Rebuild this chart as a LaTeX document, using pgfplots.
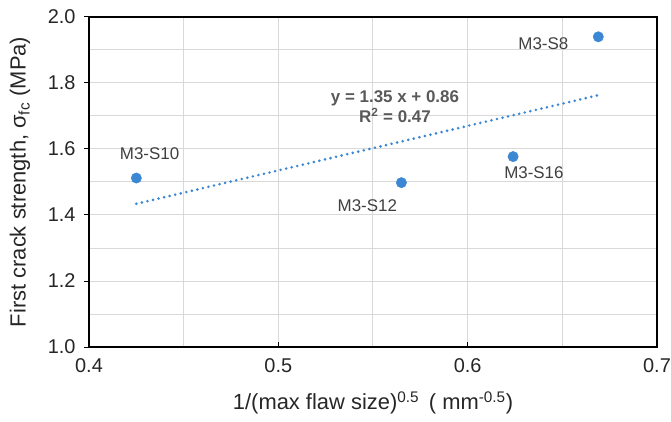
\documentclass[border=0pt]{standalone}
\usepackage{pgfplots}
\pgfplotsset{compat=1.18}
\usepackage{fontspec}
\setmainfont{Liberation Sans}
\definecolor{ptblue}{HTML}{3B87D4}
\definecolor{gridgray}{HTML}{D9D9D9}
\definecolor{lbl}{HTML}{404040}
\definecolor{eqc}{HTML}{595959}
\begin{document}
\begin{tikzpicture}
\begin{axis}[
  scale only axis, width=568bp, height=330bp,
  xmin=0.4, xmax=0.7, ymin=1.0, ymax=2.0,
  xtick={0.4,0.5,0.6,0.7}, ytick={1.0,1.2,1.4,1.6,1.8,2.0},
  minor xtick={0.45,0.55,0.65}, minor ytick={1.1,1.3,1.5,1.7,1.9},
  grid=both, major grid style={gridgray, line width=1bp}, minor grid style={gridgray, line width=1bp},
  minor tick length=0pt,
  axis line style={black, line width=1.3bp},
  xtick pos=bottom, ytick pos=left,
  x tick style={black, line width=1bp}, y tick style={black, line width=1bp},
  xtick align=inside, ytick align=outside, major tick length=5bp,
  /pgf/number format/assume math mode=true,
  /pgf/number format/.cd, fixed, fixed zerofill, precision=1, /pgfplots/.cd,
  tick label style={font=\fontsize{20}{24}\selectfont, text=black!85},
  xticklabel style={yshift=-8bp},
  yticklabel style={xshift=-5bp},
  xlabel={1/(max flaw size)\textsuperscript{0.5}\, ( mm\textsuperscript{-0.5})},
  ylabel={First crack strength, σ\textsubscript{fc} (MPa)},
  label style={font=\fontsize{22}{26}\selectfont, text=black!85},
  xlabel style={at={(axis description cs:0.5,-0.17)}, anchor=center},
  ylabel style={at={(axis description cs:-0.1215,0.5)}, anchor=center},
  clip=false,
]
\coordinate (sw) at (rel axis cs:0,0);
\coordinate (ne) at (rel axis cs:1,1);
\addplot[ptblue, line width=2.9bp, dash pattern=on 0bp off 5.7bp, line cap=round] coordinates {(0.425,1.434) (0.669,1.763)};
\addplot[only marks, mark=*, mark size=5.2bp, mark options={fill=ptblue, draw=ptblue}] coordinates {
 (0.425,1.512) (0.565,1.498) (0.624,1.577) (0.669,1.940)};
\node[text=lbl, font=\fontsize{17}{20}\selectfont] at (axis cs:0.432,1.585) {M3-S10};
\node[text=lbl, font=\fontsize{17}{20}\selectfont] at (axis cs:0.547,1.427) {M3-S12};
\node[text=lbl, font=\fontsize{17}{20}\selectfont] at (axis cs:0.635,1.527) {M3-S16};
\node[text=lbl, font=\fontsize{17}{20}\selectfont] at (axis cs:0.640,1.918) {M3-S8};
\node[text=eqc, font=\bfseries\fontsize{17}{20}\selectfont, align=center] at (axis cs:0.5616,1.728) {y = 1.35 x + 0.86\\R\textsuperscript{2} = 0.47};
\end{axis}
\pgfresetboundingbox
\path[use as bounding box] ([shift={(-89bp,-75bp)}]sw) rectangle ([shift={(14bp,17bp)}]ne);
\end{tikzpicture}
\end{document}
